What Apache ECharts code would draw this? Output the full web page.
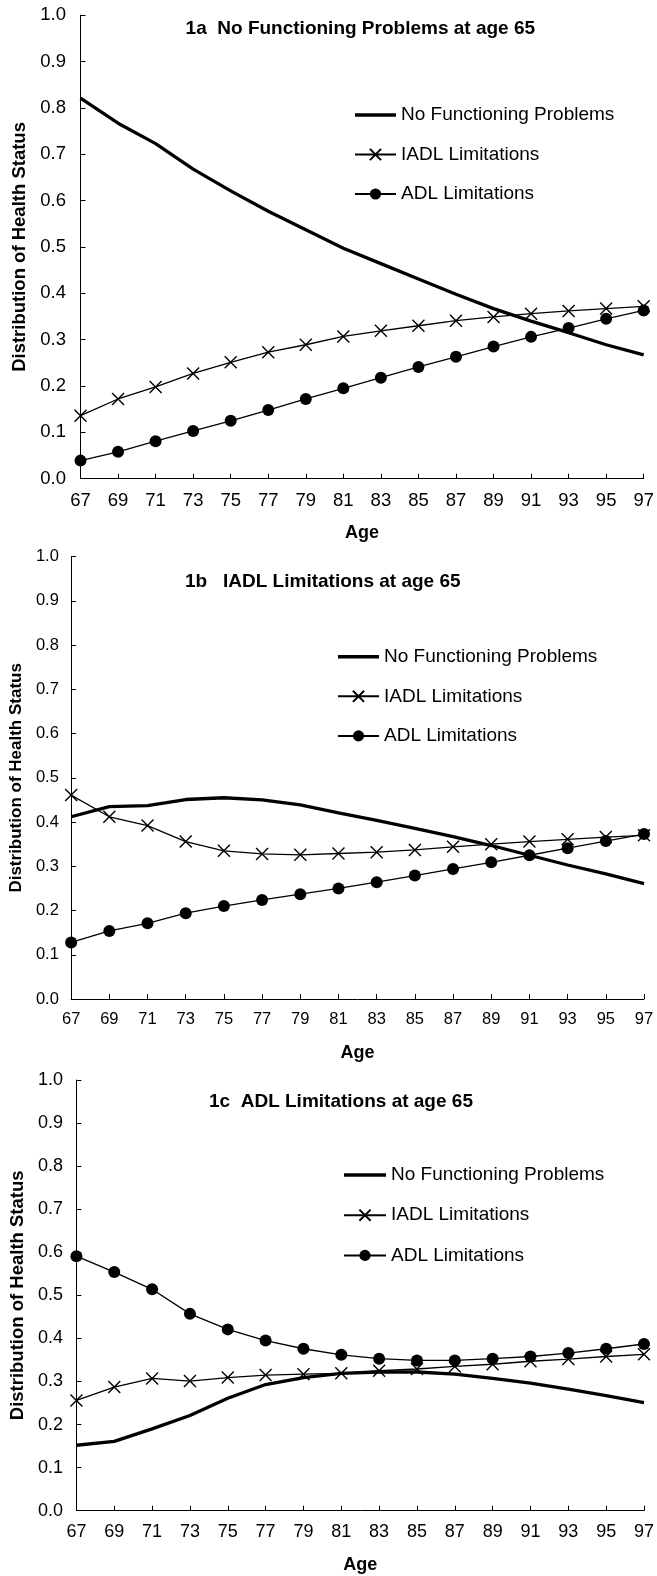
<!DOCTYPE html>
<html>
<head>
<meta charset="utf-8">
<script src="https://cdn.jsdelivr.net/npm/echarts@6/dist/echarts.min.js"></script>
<style>
html,body{margin:0;padding:0;background:#fff;}
#chart{width:657px;height:1576px;}
</style>
</head>
<body>
<div id="chart"></div>
<script>
const ages = ['67','69','71','73','75','77','79','81','83','85','87','89','91','93','95','97'];
const seriesNames = ['No Functioning Problems','IADL Limitations','ADL Limitations'];
const panelTitles = ['1a  No Functioning Problems at age 65','1b   IADL Limitations at age 65','1c  ADL Limitations at age 65'];

// Panel 1a
const noFunc1a = [0.821,0.767,0.723,0.668,0.621,0.577,0.537,0.497,0.464,0.431,0.398,0.367,0.340,0.315,0.289,0.267];
const iadl1a   = [0.136,0.172,0.198,0.227,0.251,0.273,0.289,0.307,0.319,0.330,0.341,0.349,0.356,0.362,0.367,0.372];
const adl1a    = [0.039,0.058,0.081,0.103,0.125,0.148,0.172,0.195,0.218,0.241,0.263,0.285,0.306,0.325,0.345,0.363];
// Panel 1b
const noFunc1b = [0.412,0.435,0.437,0.451,0.455,0.450,0.439,0.421,0.404,0.386,0.367,0.347,0.325,0.303,0.283,0.261];
const iadl1b   = [0.461,0.412,0.392,0.356,0.335,0.328,0.326,0.329,0.332,0.337,0.344,0.350,0.356,0.361,0.366,0.370];
const adl1b    = [0.128,0.154,0.171,0.194,0.210,0.224,0.237,0.250,0.264,0.279,0.294,0.309,0.325,0.341,0.357,0.373];
// Panel 1c
const noFunc1c = [0.152,0.161,0.190,0.221,0.261,0.293,0.309,0.319,0.322,0.322,0.317,0.307,0.296,0.282,0.267,0.251];
const iadl1c   = [0.256,0.287,0.307,0.301,0.309,0.315,0.317,0.319,0.325,0.329,0.335,0.340,0.347,0.352,0.358,0.363];
const adl1c    = [0.591,0.554,0.514,0.457,0.421,0.395,0.376,0.362,0.353,0.349,0.349,0.353,0.358,0.366,0.376,0.387];

const panelData = [[noFunc1a,iadl1a,adl1a],[noFunc1b,iadl1b,adl1b],[noFunc1c,iadl1c,adl1c]];

const FONT = "'Liberation Sans', Arial, sans-serif";
const layout = [
  {grid:{left:80.5,top:15.2,width:568,height:463.5}, tick:18.5, yName:18.5, yGap:43.5, xGap:45, yMargin:14.5, xMargin:13,
   title:{left:185.6,top:19}, legend:{left:354,top:105,gap:19.5,w:41}},
  {grid:{left:68.3,top:556.7,width:575.7,height:442.3}, tick:16.5, yName:17, yGap:36, xGap:45, yMargin:12.3, xMargin:11.5,
   title:{left:185,top:572.5}, legend:{left:337,top:646.7,gap:19.6,w:41}},
  {grid:{left:75,top:1080,width:574,height:430.7}, tick:18, yName:18.5, yGap:39, xGap:45, yMargin:13.5, xMargin:12,
   title:{left:209,top:1092}, legend:{left:343,top:1165,gap:20.2,w:42}}
];

const crossPath = 'path://M0,0L10,10M10,0L0,10';
const thickLineIcon = 'path://M0,0L40,0L40,3.3L0,3.3Z';
const option = {
  animation:false,
  backgroundColor:'#fff',
  textStyle:{fontFamily:FONT},
  title:[], legend:[], grid:[], xAxis:[], yAxis:[], series:[]
};

layout.forEach((L,i)=>{
  option.grid.push(Object.assign({containLabel:false}, L.grid));
  option.title.push({
    text: panelTitles[i], left:L.title.left, top:L.title.top, padding:0,
    textStyle:{fontFamily:FONT, fontSize:19, fontWeight:'bold', color:'#000', lineHeight:19}
  });
  option.legend.push({
    data: [{name:seriesNames[0], icon:thickLineIcon}, {name:seriesNames[1]}, {name:seriesNames[2]}],
    orient:'vertical', left:L.legend.left, top:L.legend.top, padding:0,
    itemWidth:L.legend.w, itemHeight:14, itemGap:L.legend.gap, selectedMode:false,
    textStyle:{fontFamily:FONT, fontSize:19, color:'#000', lineHeight:20}
  });
  option.xAxis.push({
    type:'category', gridIndex:i, data:ages, boundaryGap:false,
    name:'Age', nameLocation:'middle', nameGap:L.xGap,
    nameTextStyle:{fontFamily:FONT, fontSize:18, fontWeight:'bold', color:'#000'},
    axisLine:{lineStyle:{color:'#000', width:1}},
    axisTick:{inside:true, length:5, lineStyle:{color:'#000'}},
    axisLabel:{fontFamily:FONT, fontSize:L.tick, color:'#000', margin:L.xMargin, interval:0},
    splitLine:{show:false}
  });
  option.yAxis.push({
    type:'value', gridIndex:i, min:0, max:1, interval:0.1,
    name:'Distribution of Health Status', nameLocation:'middle', nameGap:L.yGap, nameRotate:90,
    nameTextStyle:{fontFamily:FONT, fontSize:L.yName, fontWeight:'bold', color:'#000'},
    axisLine:{show:true, lineStyle:{color:'#000', width:1}},
    axisTick:{show:true, inside:true, length:5, lineStyle:{color:'#000'}},
    axisLabel:{fontFamily:FONT, fontSize:L.tick, color:'#000', margin:L.yMargin,
      formatter:v=>v.toFixed(1)},
    splitLine:{show:false}
  });
  const d = panelData[i];
  option.series.push({
    name:seriesNames[0], type:'line', xAxisIndex:i, yAxisIndex:i, data:d[0],
    symbol:'none', lineStyle:{color:'#000', width:3.3}, itemStyle:{color:'#000'}, z:3
  });
  option.series.push({
    name:seriesNames[1], type:'line', xAxisIndex:i, yAxisIndex:i, data:d[1],
    symbol:crossPath, symbolSize:12, showAllSymbol:true,
    lineStyle:{color:'#000', width:1.3},
    itemStyle:{color:'#000', borderColor:'#000', borderWidth:1.4}, z:4
  });
  option.series.push({
    name:seriesNames[2], type:'line', xAxisIndex:i, yAxisIndex:i, data:d[2],
    symbol:'circle', symbolSize:12, showAllSymbol:true,
    lineStyle:{color:'#000', width:1.3},
    itemStyle:{color:'#000', borderWidth:0}, z:5
  });
});

const chart = echarts.init(document.getElementById('chart'), null, {renderer:'canvas'});
chart.setOption(option);
</script>
</body>
</html>
